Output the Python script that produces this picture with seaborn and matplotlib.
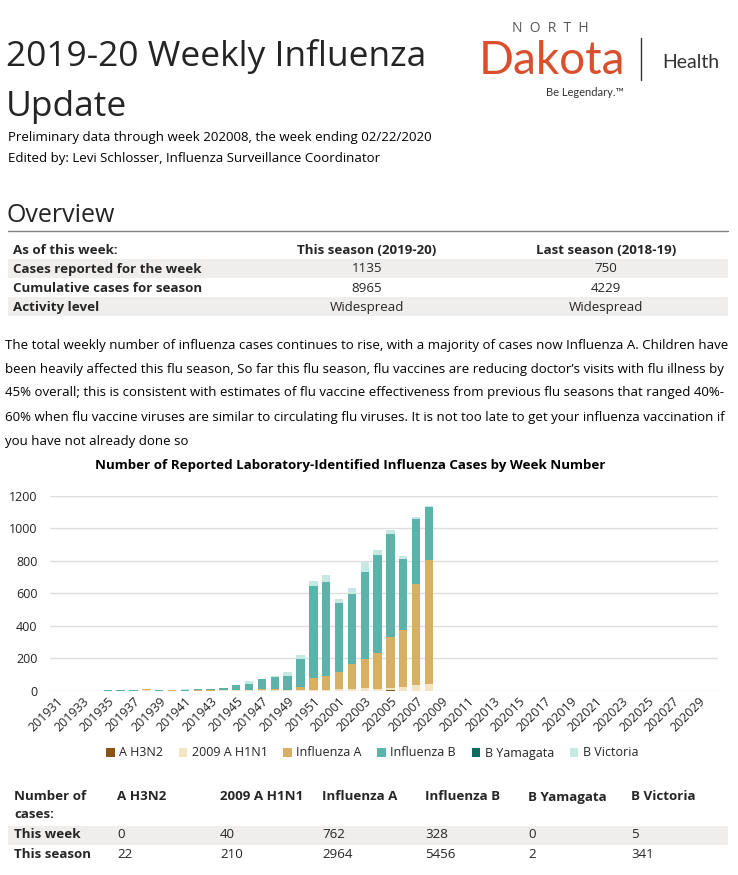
import matplotlib
matplotlib.use("Agg")
import matplotlib.pyplot as plt
from matplotlib.patches import Rectangle, Patch
from matplotlib.lines import Line2D
import seaborn as sns
import pandas as pd

# weeks on the axis (201931 .. 202030)
all_weeks = [f"2019{w}" for w in range(31, 53)] + [f"2020{w:02d}" for w in range(1, 31)]
# weeks with reported data (201931 .. 202008)
data_weeks = all_weeks[:30]

h3n2 =   [0, 0, 0, 0, 0, 0, 0, 1, 0, 1, 0, 1, 0, 1, 1, 1, 1, 1, 1, 1, 1, 1, 1, 1, 1, 1, 4, 1, 1, 0]
h1n1 =   [0, 0, 0, 0, 0, 0, 0, 3, 0, 0, 0, 0, 0, 1, 1, 2, 2, 3, 3, 4, 6, 6, 10, 10, 14, 12, 14, 22, 32, 40]
infl_a = [0, 0, 0, 0, 0, 0, 1, 6, 1, 1, 1, 2, 2, 2, 2, 4, 6, 8, 3, 15, 70, 83, 106, 155, 178, 222, 310, 350, 625, 762]
infl_b = [0, 0, 1, 1, 2, 3, 2, 1, 3, 5, 6, 9, 9, 10, 30, 36, 60, 72, 81, 175, 567, 581, 420, 427, 538, 600, 635, 439, 396, 328]
b_yam =  [0, 0, 0, 0, 0, 0, 0, 0, 1, 0, 0, 0, 1, 0, 0, 0, 0, 0, 0, 0, 0, 0, 0, 0, 0, 0, 0, 0, 0, 0]
b_vic =  [0, 0, 0, 0, 0, 0, 0, 0, 0, 0, 1, 1, 1, 1, 2, 14, 2, 6, 26, 22, 33, 39, 25, 39, 64, 29, 23, 17, 16, 5]

series_names = ["A H3N2", "2009 A H1N1", "Influenza A", "Influenza B", "B Yamagata", "B Victoria"]
series_colors = ["#8C5318", "#F5E4C3", "#D8B063", "#5BB3AA", "#0E6B5F", "#C6E8E3"]

# overview table
overview_header = ["As of this week:", "This season (2019-20)", "Last season (2018-19)"]
overview_rows = [
    ["Cases reported for the week", "1135", "750"],
    ["Cumulative cases for season", "8965", "4229"],
    ["Activity level", "Widespread", "Widespread"],
]

# counts table under the chart
count_header = ["A H3N2", "2009 A H1N1", "Influenza A", "Influenza B", "B Yamagata", "B Victoria"]
this_week = ["0", "40", "762", "328", "0", "5"]
this_season = ["22", "210", "2964", "5456", "2", "341"]

paragraph = [
    "The total weekly number of influenza cases continues to rise, with a majority of cases now Influenza A. Children have",
    "been heavily affected this flu season, So far this flu season, flu vaccines are reducing doctor\u2019s visits with flu illness by",
    "45% overall; this is consistent with estimates of flu vaccine effectiveness from previous flu seasons that ranged 40%-",
    "60% when flu vaccine viruses are similar to circulating flu viruses. It is not too late to get your influenza vaccination if",
    "you have not already done so",
]

sns.set_style("white")
plt.rcParams["font.family"] = ["Open Sans", "DejaVu Sans"]
TXT = "#252423"

W, H = 738, 875
fig = plt.figure(figsize=(W / 100, H / 100), dpi=100)


def fx(x):
    return x / W


def fy(y):
    return 1 - y / H


def band(y0, y1, color="#EFEEEC"):
    fig.add_artist(Rectangle((fx(8), fy(y1)), (728 - 8) / W, (y1 - y0) / H,
                             transform=fig.transFigure, color=color, zorder=0, lw=0))


# header
fig.text(fx(6), fy(66), "2019-20 Weekly Influenza", fontsize=25.5, color=TXT, va="baseline")
fig.text(fx(6), fy(116), "Update", fontsize=25.5, color=TXT, va="baseline")
fig.text(fx(8), fy(141), "Preliminary data through week 202008, the week ending 02/22/2020",
         fontsize=9.5, color="black", va="baseline")
fig.text(fx(8), fy(162), "Edited by: Levi Schlosser, Influenza Surveillance Coordinator",
         fontsize=9.5, color="black", va="baseline")

# logo
fig.text(fx(550), fy(28), "N  O  R  T  H", fontsize=10, color="#555555", ha="center", va="center")
fig.text(fx(552), fy(74), "Dakota", fontsize=33, color="#D9502E", ha="center", va="baseline",
         family=["Lato", "DejaVu Sans"])
fig.add_artist(Line2D([fx(641), fx(641)], [fy(38), fy(80)], color="#333333", lw=1))
fig.text(fx(691), fy(63), "Health", fontsize=14, color="#333333", ha="center", va="center",
         family=["Lato", "DejaVu Sans"])
fig.text(fx(585), fy(93), "Be Legendary.\u2122", fontsize=8, color="#333333", ha="center", va="center",
         family=["Lato", "DejaVu Sans"])

# overview
fig.text(fx(7), fy(222), "Overview", fontsize=18, color=TXT, va="baseline")
fig.add_artist(Line2D([fx(8), fx(728)], [fy(231), fy(231)], color="#808080", lw=1))

band(259, 278)
band(297, 316)
ov_y = [250, 269, 288, 307]
fs_tab = 9.6
fig.text(fx(13), fy(ov_y[0]), overview_header[0], fontsize=fs_tab, weight="bold", va="center")
fig.text(fx(367), fy(ov_y[0]), overview_header[1], fontsize=fs_tab, weight="bold", va="center", ha="center")
fig.text(fx(606), fy(ov_y[0]), overview_header[2], fontsize=fs_tab, weight="bold", va="center", ha="center")
for row, y in zip(overview_rows, ov_y[1:]):
    fig.text(fx(13), fy(y), row[0], fontsize=fs_tab, weight="bold", va="center")
    fig.text(fx(367), fy(y), row[1], fontsize=fs_tab, va="center", ha="center")
    fig.text(fx(606), fy(y), row[2], fontsize=fs_tab, va="center", ha="center")

for i, line in enumerate(paragraph):
    fig.text(fx(5), fy(345 + i * 24), line, fontsize=9.5, color="black", va="center")

fig.text(fx(350), fy(466), "Number of Reported Laboratory-Identified Influenza Cases by Week Number",
         fontsize=9.6, weight="bold", color="black", ha="center", va="center")

# chart
df = pd.DataFrame({"week": data_weeks, "A H3N2": h3n2, "2009 A H1N1": h1n1,
                   "Influenza A": infl_a, "Influenza B": infl_b,
                   "B Yamagata": b_yam, "B Victoria": b_vic})
cum = df[series_names].cumsum(axis=1)
cum["week"] = df["week"]

ax = fig.add_axes([fx(50), fy(690.7), (718 - 50) / W, (690.7 - 495.7) / H])
for name, color in reversed(list(zip(series_names, series_colors))):
    sns.barplot(data=cum, x="week", y=name, order=all_weeks, color=color, width=0.65,
                saturation=1, linewidth=0, errorbar=None, ax=ax)

ax.set_ylim(0, 1200)
ax.set_xlim(-0.5, len(all_weeks) - 0.5)
ax.set_yticks(range(0, 1201, 200))
ax.yaxis.grid(True, color="#DEDEDE", lw=1)
ax.set_axisbelow(True)
for s in ax.spines.values():
    s.set_visible(False)
ax.set_xlabel("")
ax.set_ylabel("")
ax.set_xticks(range(0, len(all_weeks), 2))
ax.set_xticklabels(all_weeks[::2], rotation=45, ha="right", rotation_mode="anchor",
                   fontsize=9, color=TXT)
ax.tick_params(axis="y", length=0, pad=9, labelsize=9, labelcolor=TXT)
ax.tick_params(axis="x", length=0, pad=3)

handles = [Patch(facecolor=c, edgecolor="none") for c in series_colors]
fig.legend(handles, series_names, loc="center", bbox_to_anchor=(fx(372), fy(753)), ncol=6,
           frameon=False, fontsize=9, handlelength=0.7, handleheight=0.7, handletextpad=0.35,
           columnspacing=1.25, labelcolor=TXT)

# counts table
band(826, 845)
cols_x = [117, 220, 322, 425, 528, 631]
fig.text(fx(14), fy(797), "Number of", fontsize=fs_tab, weight="bold", va="center")
fig.text(fx(14), fy(815), "cases:", fontsize=fs_tab, weight="bold", va="center")
for x, h in zip(cols_x, count_header):
    fig.text(fx(x), fy(797), h, fontsize=fs_tab, weight="bold", va="center")
fig.text(fx(14), fy(835), "This week", fontsize=fs_tab, weight="bold", va="center")
fig.text(fx(14), fy(854), "This season", fontsize=fs_tab, weight="bold", va="center")
for x, a, b in zip(cols_x, this_week, this_season):
    fig.text(fx(x), fy(835), a, fontsize=fs_tab, va="center")
    fig.text(fx(x), fy(854), b, fontsize=fs_tab, va="center")

fig.savefig("out.png", dpi=100)
